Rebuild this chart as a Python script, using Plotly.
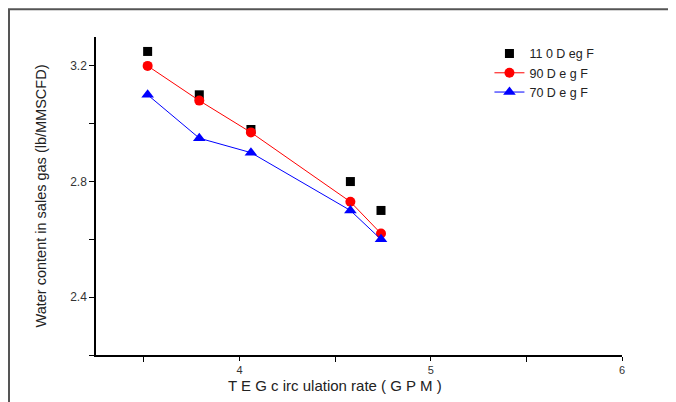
import plotly.graph_objects as go

gpm = [3.52, 3.79, 4.06, 4.58, 4.74]
water_110 = [3.25, 3.10, 2.98, 2.80, 2.70]
water_90 = [3.20, 3.08, 2.97, 2.73, 2.62]
water_70 = [3.10, 2.95, 2.90, 2.70, 2.60]

fig = go.Figure()
fig.add_trace(go.Scatter(x=gpm, y=water_110, mode='markers', name='11 0 D eg F',
                         marker=dict(symbol='square', size=9, color='black')))
fig.add_trace(go.Scatter(x=gpm, y=water_90, mode='lines+markers', name='90 D e g F',
                         line=dict(color='#ff0000', width=1), marker=dict(symbol='circle', size=10, color='#ff0000')))
fig.add_trace(go.Scatter(x=gpm, y=water_70, mode='lines+markers', name='70 D e g F',
                         line=dict(color='#0000ff', width=1), marker=dict(symbol='triangle-up', size=11, color='#0000ff')))

font = 'Liberation Sans, Arial, sans-serif'
minor_x = dict(dtick=0.5, tick0=0, ticks='outside', ticklen=5, tickcolor='black', showgrid=False)
minor_y = dict(dtick=0.2, tick0=0, ticks='outside', ticklen=5, tickcolor='black', showgrid=False)

fig.update_xaxes(range=[3.25, 6], dtick=1, tick0=0, minor=minor_x, ticks='outside', ticklen=4,
                 tickcolor='black', showline=True, linecolor='black', linewidth=1.5, showgrid=False,
                 zeroline=False, tickfont=dict(family=font, size=11, color='#333333'), automargin=False)
fig.update_yaxes(range=[2.2, 3.3], dtick=0.4, tick0=2.4, minor=minor_y, ticks='outside', ticklen=5,
                 tickcolor='black', showline=True, linecolor='black', linewidth=1.5, showgrid=False,
                 zeroline=False, tickfont=dict(family=font, size=12, color='#333333'),
                 automargin=False, tickformat='.1f',
                 title=dict(text='Water content in sales gas (lb/MMSCFD)', standoff=20,
                            font=dict(family=font, size=14.5, color='#222')))

# x title sits left of centre in the original
fig.add_annotation(text='T E G c irc ulation rate ( G P M )', xref='paper', yref='paper',
                   x=0.454, y=-0.095, xanchor='center', yanchor='middle', showarrow=False,
                   font=dict(family=font, size=15, color='#222'))

# outer frame of the original figure
fig.add_shape(type='rect', xref='paper', yref='paper', x0=-0.1654, x1=1.3, y0=-0.3, y1=1.087,
              line=dict(color='#555555', width=2), layer='below')

fig.update_layout(
    width=676, height=402,
    margin=dict(l=88, r=62, t=29, b=55),
    plot_bgcolor='white', paper_bgcolor='white',
    legend=dict(x=0.748, y=0.994, xanchor='left', yanchor='top', bgcolor='rgba(0,0,0,0)',
                font=dict(family=font, size=12.5, color='#222'),
                tracegroupgap=0, itemsizing='trace'),
)

fig.write_html("out.html")
